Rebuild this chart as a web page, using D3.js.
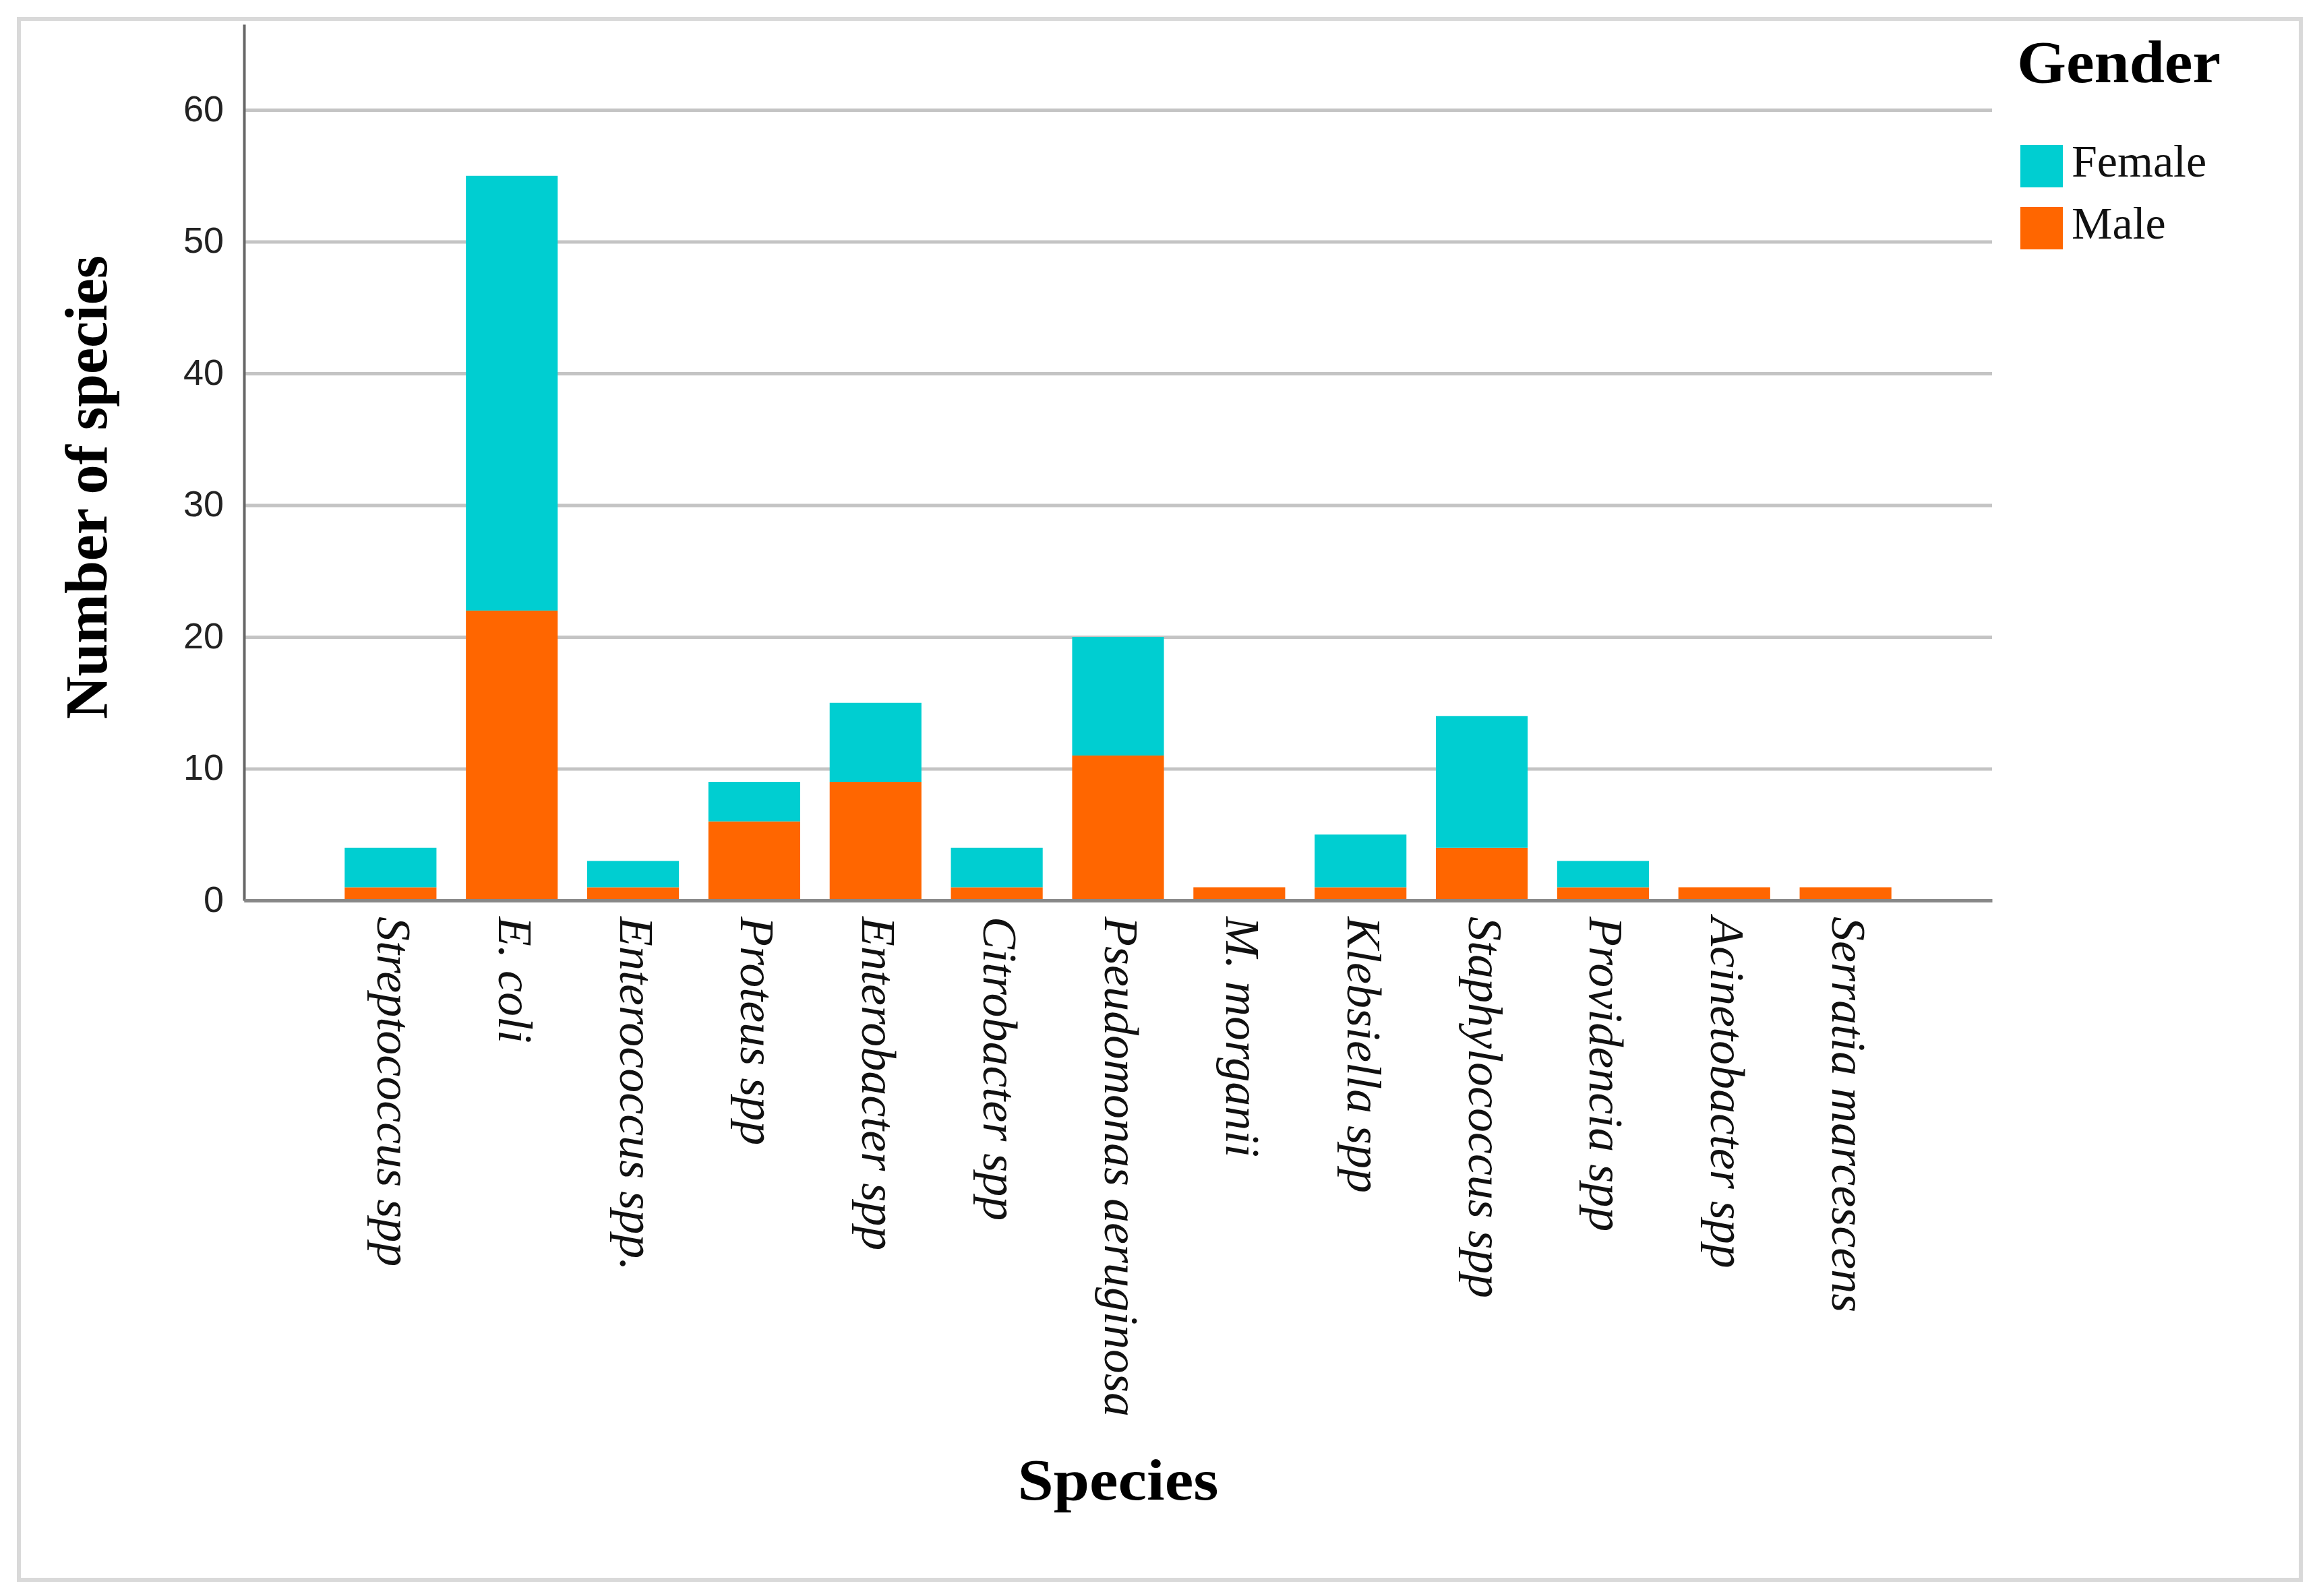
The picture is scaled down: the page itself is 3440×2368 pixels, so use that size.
<!DOCTYPE html>
<html>
<head>
<meta charset="utf-8">
<script src="https://cdn.jsdelivr.net/npm/d3@7/dist/d3.min.js"></script>
<style>
  body { margin: 0; background: #fff; }
  svg { display: block; }
</style>
</head>
<body>
<div id="chart"></div>
<script>
// values
const species = ["Streptococcus spp", "E. coli", "Enterococcus spp.", "Proteus spp", "Enterobacter spp",
    "Citrobacter spp", "Pseudomonas aeruginosa", "M. morganii", "Klebsiella spp", "Staphylococcus spp",
    "Providencia spp", "Acinetobacter spp", "Serratia marcescens"];
const male = [1, 22, 1, 6, 9, 1, 11, 1, 1, 4, 1, 1, 1];
const female = [3, 33, 2, 3, 6, 3, 9, 0, 4, 10, 2, 0, 0];
const yTicks = [0, 10, 20, 30, 40, 50, 60];
const keys = ["Male", "Female"];
const legendKeys = ["Female", "Male"];
const colors = { Female: "#00CED1", Male: "#FF6600" };

const W = 3440, H = 2368;
const plot = { left: 362, right: 2955, top: 36, bottom: 1336 };

const svg = d3.select("#chart").append("svg")
    .attr("width", W)
    .attr("height", H);

// outer frame
svg.append("rect")
    .attr("x", 28).attr("y", 28)
    .attr("width", 3385).attr("height", 2316)
    .attr("fill", "none")
    .attr("stroke", "#d9d9d9")
    .attr("stroke-width", 6);

let rows = species.map((s, i) => ({ species: s, Male: male[i], Female: female[i] }));

let x = d3.scaleBand()
    .domain(species)
    .range([plot.left, plot.right])
    .paddingInner(0.243)
    .paddingOuter(0.83);
let y = d3.scaleLinear().domain([0, 66.5]).range([plot.bottom, plot.top]);

// gridlines
let grid = svg.append("g")
    .attr("transform", `translate(${plot.left},0)`)
    .call(d3.axisLeft(y).tickValues(yTicks).tickSize(-(plot.right - plot.left)).tickFormat(""));
grid.select(".domain").remove();
grid.selectAll(".tick line").attr("stroke", "#c4c4c4").attr("stroke-width", 5);

// stacked bars
let stacked = d3.stack().keys(keys)(rows);
svg.append("g").selectAll("g")
    .data(stacked)
    .join("g")
    .attr("fill", d => colors[d.key])
    .selectAll("rect")
    .data(d => d)
    .join("rect")
    .attr("x", d => x(d.data.species))
    .attr("y", d => y(d[1]))
    .attr("width", x.bandwidth())
    .attr("height", d => y(d[0]) - y(d[1]));

// y axis
let yAxis = svg.append("g")
    .attr("transform", `translate(${plot.left},0)`)
    .call(d3.axisLeft(y).tickValues(yTicks).tickSize(0).tickPadding(30));
yAxis.select(".domain").attr("stroke", "#666").attr("stroke-width", 4);
yAxis.selectAll(".tick text")
    .attr("font-family", "'Liberation Sans', Arial, sans-serif")
    .attr("font-size", 54)
    .attr("fill", "#222")
    .attr("dy", "0.3em");

// x axis
let xAxis = svg.append("g")
    .attr("transform", `translate(0,${plot.bottom})`)
    .call(d3.axisBottom(x).tickSize(0).tickPadding(0));
xAxis.select(".domain").attr("stroke", "#888").attr("stroke-width", 5);
xAxis.selectAll(".tick text")
    .attr("font-family", "'Liberation Serif', 'Times New Roman', serif")
    .attr("font-style", "italic")
    .attr("font-size", 72)
    .attr("fill", "#111")
    .attr("text-anchor", "start")
    .attr("y", 0)
    .attr("dy", "0.27em")
    .attr("transform", "translate(0,24) rotate(90)");

// axis titles
svg.append("text")
    .attr("transform", "translate(158,723) rotate(-90)")
    .attr("text-anchor", "middle")
    .attr("font-family", "'Liberation Serif', 'Times New Roman', serif")
    .attr("font-weight", "bold")
    .attr("font-size", 88)
    .attr("textLength", 688)
    .attr("lengthAdjust", "spacingAndGlyphs")
    .text("Number of species");

svg.append("text")
    .attr("x", (plot.left + plot.right) / 2)
    .attr("y", 2225)
    .attr("text-anchor", "middle")
    .attr("font-family", "'Liberation Serif', 'Times New Roman', serif")
    .attr("font-weight", "bold")
    .attr("font-size", 86)
    .attr("textLength", 298)
    .attr("lengthAdjust", "spacingAndGlyphs")
    .text("Species");

// legend
let legend = svg.append("g");
legend.append("text")
    .attr("x", 2992)
    .attr("y", 122)
    .attr("font-family", "'Liberation Serif', 'Times New Roman', serif")
    .attr("font-weight", "bold")
    .attr("font-size", 88)
    .attr("textLength", 302)
    .attr("lengthAdjust", "spacingAndGlyphs")
    .text("Gender");
let items = legend.selectAll(".item")
    .data(legendKeys)
    .join("g")
    .attr("class", "item")
    .attr("transform", (d, i) => `translate(2997,${215 + i * 92})`);
items.append("rect")
    .attr("width", 63)
    .attr("height", 63)
    .attr("fill", d => colors[d]);
items.append("text")
    .attr("x", 76)
    .attr("y", 47)
    .attr("font-family", "'Liberation Serif', 'Times New Roman', serif")
    .attr("font-size", 68)
    .attr("fill", "#111")
    .text(d => d);
</script>
</body>
</html>
